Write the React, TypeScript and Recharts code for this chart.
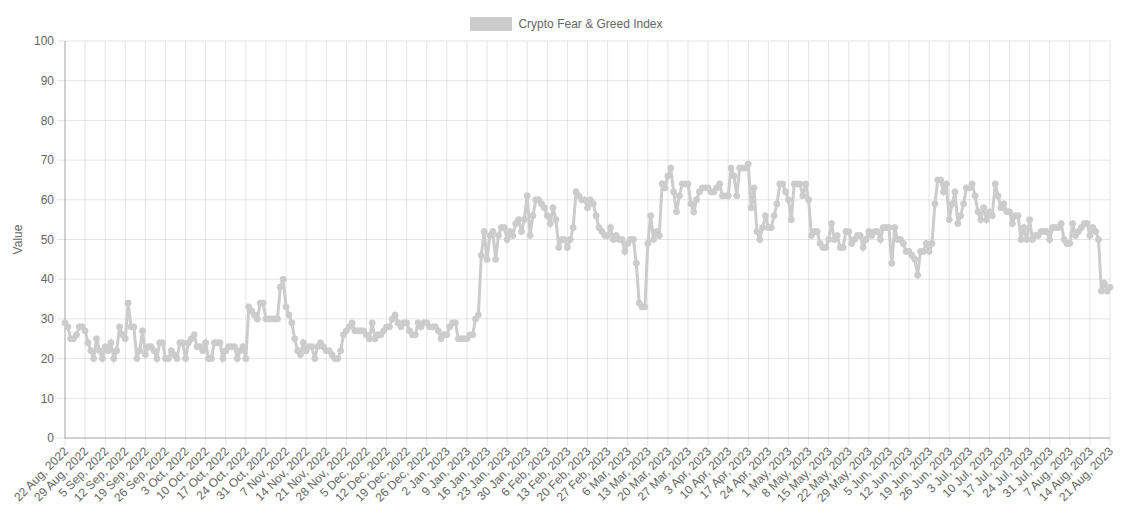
import React from 'react'
import { LineChart, Line, XAxis, YAxis, CartesianGrid } from 'recharts'

// daily index values, 22 Aug 2022 .. 21 Aug 2023
const aug2022 = [29, 28, 25, 25, 26, 28, 28, 27, 24, 22]
const sep2022 = [20, 25, 22, 20, 23, 22, 24, 20, 22, 28, 26, 25, 34, 28, 28, 20, 22, 27, 21, 23, 23, 22, 20, 24, 24, 20, 20, 22, 21, 20]
const oct2022 = [24, 24, 20, 24, 25, 26, 23, 23, 22, 24, 20, 20, 24, 24, 24, 20, 22, 23, 23, 23, 20, 22, 23, 20, 33, 32, 31, 30, 34, 34, 30]
const nov2022 = [30, 30, 30, 30, 38, 40, 33, 31, 29, 25, 22, 21, 24, 22, 23, 23, 20, 23, 24, 23, 22, 22, 21, 20, 20, 22, 26, 27, 28, 29]
const dec2022 = [27, 27, 27, 27, 26, 25, 29, 25, 26, 26, 27, 28, 28, 30, 31, 29, 28, 29, 29, 27, 26, 26, 29, 28, 29, 29, 28, 28, 28, 27, 25]
const jan2023 = [26, 26, 28, 29, 29, 25, 25, 25, 25, 26, 26, 30, 31, 46, 52, 45, 51, 52, 45, 51, 53, 53, 50, 52, 51, 54, 55, 52, 55, 61, 51]
const feb2023 = [56, 60, 60, 59, 58, 56, 54, 58, 55, 48, 50, 50, 48, 50, 53, 62, 61, 60, 60, 58, 60, 59, 56, 53, 52, 51, 51, 53]
const mar2023 = [50, 51, 50, 50, 47, 49, 50, 50, 44, 34, 33, 33, 49, 56, 50, 52, 51, 64, 63, 66, 68, 62, 57, 61, 64, 64, 64, 59, 57, 60, 62]
const apr2023 = [63, 63, 63, 62, 62, 63, 64, 61, 61, 61, 68, 66, 61, 68, 68, 68, 69, 58, 63, 52, 50, 53, 56, 53, 53, 56, 59, 64, 64, 62]
const may2023 = [60, 55, 64, 64, 64, 61, 64, 60, 51, 52, 52, 49, 48, 48, 50, 54, 50, 51, 48, 48, 52, 52, 49, 50, 51, 51, 48, 50, 52, 51, 52]
const jun2023 = [52, 50, 53, 53, 53, 44, 53, 50, 50, 49, 47, 47, 46, 45, 41, 47, 47, 49, 47, 49, 59, 65, 65, 62, 64, 55, 59, 62, 54, 56]
const jul2023 = [59, 63, 63, 64, 61, 57, 55, 58, 55, 57, 56, 64, 61, 58, 59, 57, 57, 54, 56, 56, 50, 53, 50, 55, 50, 51, 51, 52, 52, 52, 50]
const aug2023 = [53, 53, 53, 54, 50, 49, 49, 54, 51, 52, 53, 54, 54, 51, 53, 52, 50, 37, 39, 37, 38]

const values = [
  ...aug2022, ...sep2022, ...oct2022, ...nov2022, ...dec2022, ...jan2023,
  ...feb2023, ...mar2023, ...apr2023, ...may2023, ...jun2023, ...jul2023, ...aug2023,
]

const monthNames = ['Jan', 'Feb', 'Mar', 'Apr', 'May', 'Jun', 'Jul', 'Aug', 'Sep', 'Oct', 'Nov', 'Dec']
const yTicks = [0, 10, 20, 30, 40, 50, 60, 70, 80, 90, 100]
const seriesName = 'Crypto Fear & Greed Index'

const start = Date.UTC(2022, 7, 22)
const data = values.map((value, i) => {
  const d = new Date(start + i * 86400000)
  return {
    date: `${d.getUTCDate()} ${monthNames[d.getUTCMonth()]}, ${d.getUTCFullYear()}`,
    value,
  }
})

const FONT = '"Liberation Sans", Arial, Helvetica, sans-serif'
const GRID = 'rgba(0,0,0,0.1)'
const LINE = '#cccccc'

const DateTick = (props: any) => {
  const { x, y, payload } = props
  return (
    <g transform={`translate(${x + 1},${y + 1})`}>
      <text x={0} y={0} dy="0.35em" textAnchor="end" transform="rotate(-45)" fill="#666" fontSize={12} fontFamily={FONT}>
        {payload.value}
      </text>
    </g>
  )
}

export default function App() {
  return (
    <div style={{ position: 'fixed', left: 0, top: 0, width: 1133, height: 526, background: '#fff', fontFamily: FONT }}>
      <div style={{ position: 'absolute', left: 0, top: 17, width: 1133, display: 'flex', justifyContent: 'center', alignItems: 'center', color: '#666', fontSize: 12 }}>
        <span style={{ display: 'inline-block', width: 40, height: 12, background: LINE, border: `1px solid ${LINE}`, marginRight: 6, marginLeft: 0 }} />
        <span>{seriesName}</span>
      </div>
      <LineChart width={1133} height={526} data={data} margin={{ top: 41, right: 23, bottom: 0, left: 0 }}>
        <CartesianGrid stroke={GRID} syncWithTicks />
        <XAxis
          dataKey="date"
          interval={6}
          height={88}
          tick={<DateTick />}
          tickSize={8}
          tickLine={{ stroke: GRID }}
          axisLine={{ stroke: '#b0b0b0' }}
        />
        <YAxis
          domain={[0, 100]}
          ticks={yTicks}
          width={65}
          tickSize={8}
          tickMargin={3}
          tickLine={{ stroke: GRID }}
          axisLine={{ stroke: '#b0b0b0' }}
          tick={{ fill: '#666', fontSize: 12, fontFamily: FONT }}
          label={{ value: 'Value', angle: -90, position: 'insideLeft', offset: 18, style: { textAnchor: 'middle', fill: '#666', fontSize: 12, fontFamily: FONT } }}
        />
        <Line
          type="linear"
          dataKey="value"
          name={seriesName}
          stroke={LINE}
          strokeWidth={3}
          dot={{ r: 3, fill: LINE, stroke: LINE, strokeWidth: 1 }}
          isAnimationActive={false}
        />
      </LineChart>
    </div>
  )
}
